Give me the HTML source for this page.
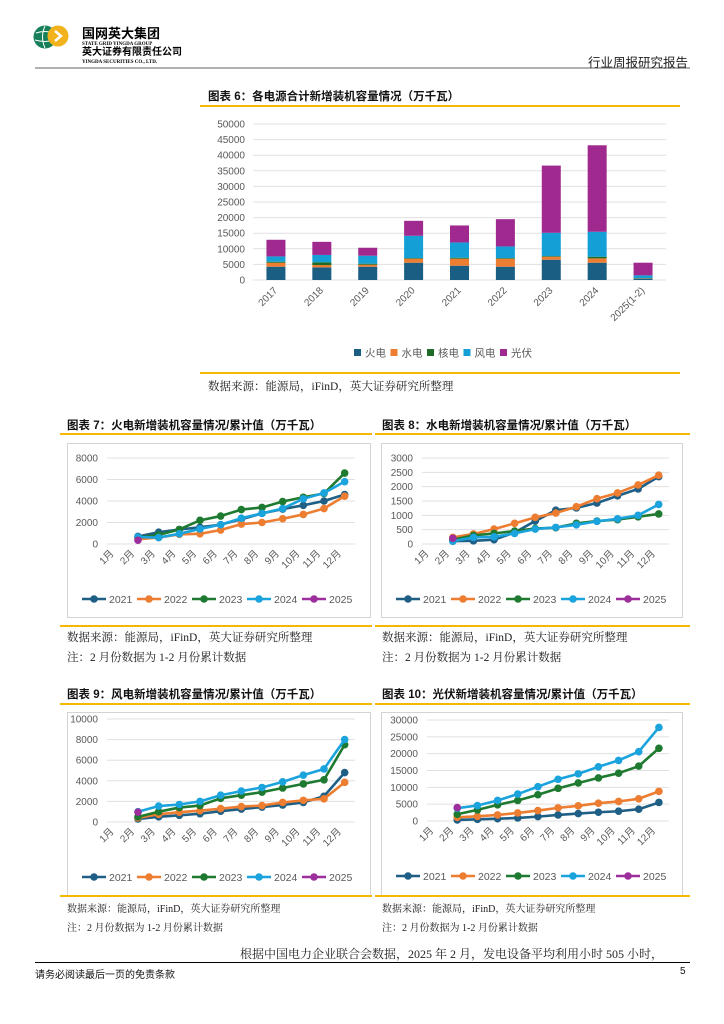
<!DOCTYPE html>
<html><head><meta charset="utf-8">
<style>
body{margin:0;background:#fff;}
#page{position:relative;width:724px;height:1024px;overflow:hidden;background:#fff;font-family:"Liberation Sans","Noto Sans CJK SC",sans-serif;}
.abs{position:absolute;white-space:nowrap;}
.title{font-family:"Liberation Sans","Noto Sans CJK SC",sans-serif;font-weight:bold;font-size:11.5px;color:#111;}
.src{font-family:"Liberation Serif","Noto Serif CJK SC",serif;font-size:11.5px;color:#222;}
.src2{font-family:"Liberation Serif","Noto Serif CJK SC",serif;font-size:10px;color:#222;}
.yl{position:absolute;height:2px;background:#f5b800;}
.box{position:absolute;border:1px solid #d4d4d4;box-sizing:border-box;}
svg text{font-family:"Liberation Sans","Noto Sans CJK SC",sans-serif;}
</style></head><body>
<div id="page">
<svg class="abs" style="left:0;top:0" width="724" height="80">
  <circle cx="45" cy="37" r="11.5" fill="#17805a"/>
  <path d="M36 33 Q45 30 54 33 M35 40 Q45 43 55 40 M45 26 Q40 37 45 48" stroke="#fff" stroke-width="1" fill="none"/>
  <circle cx="58" cy="36" r="10.5" fill="#f2b21b"/>
  <path d="M55 31 L61 36 L55 41" stroke="#fff" stroke-width="2.5" fill="none"/>
  <line x1="35" y1="68" x2="690" y2="68" stroke="#808080" stroke-width="1.2"/>
</svg>
<div class="abs" style="left:82px;top:26px;font-size:13px;font-weight:bold;color:#000;line-height:15px">国网英大集团</div>
<div class="abs" style="left:82px;top:42px;font-size:5px;line-height:5px;font-weight:bold;font-family:'Liberation Serif',serif">STATE GRID YINGDA GROUP</div>
<div class="abs" style="left:82px;top:47px;font-size:10px;line-height:11px;font-weight:bold">英大证券有限责任公司</div>
<div class="abs" style="left:82px;top:60px;font-size:5px;line-height:5px;font-weight:bold;font-family:'Liberation Serif',serif">YINGDA SECURITIES CO., LTD.</div>
<div class="abs" style="left:588px;top:52px;font-size:12.5px;color:#222">行业周报研究报告</div>

<div class="abs title" style="left:208px;top:88px">图表 6：各电源合计新增装机容量情况（万千瓦）</div>
<div class="yl" style="left:200px;top:105px;width:480px"></div>
<svg id="c6" class="abs" style="left:0;top:0" width="724" height="380"></svg>
<div class="yl" style="left:200px;top:372px;width:480px"></div>
<div class="abs src" style="left:208px;top:378px">数据来源：能源局，iFinD，英大证券研究所整理</div>

<div class="abs title" style="left:67px;top:417px">图表 7：火电新增装机容量情况/累计值（万千瓦）</div>
<div class="yl" style="left:60px;top:433px;width:312px"></div>
<div class="abs title" style="left:382px;top:417px">图表 8：水电新增装机容量情况/累计值（万千瓦）</div>
<div class="yl" style="left:375px;top:433px;width:315px"></div>
<div class="box" style="left:67px;top:443px;width:304px;height:175px"></div>
<div class="box" style="left:381px;top:443px;width:302px;height:175px"></div>
<div class="yl" style="left:60px;top:625px;width:312px"></div>
<div class="yl" style="left:375px;top:625px;width:315px"></div>
<div class="abs src" style="left:67px;top:629px">数据来源：能源局，iFinD，英大证券研究所整理</div>
<div class="abs src" style="left:67px;top:649px">注：2 月份数据为 1-2 月份累计数据</div>
<div class="abs src" style="left:382px;top:629px">数据来源：能源局，iFinD，英大证券研究所整理</div>
<div class="abs src" style="left:382px;top:649px">注：2 月份数据为 1-2 月份累计数据</div>

<div class="abs title" style="left:67px;top:686px">图表 9：风电新增装机容量情况/累计值（万千瓦）</div>
<div class="yl" style="left:60px;top:703px;width:312px"></div>
<div class="abs title" style="left:382px;top:686px">图表 10：光伏新增装机容量情况/累计值（万千瓦）</div>
<div class="yl" style="left:375px;top:703px;width:315px"></div>
<div class="box" style="left:67px;top:712px;width:304px;height:184px"></div>
<div class="box" style="left:381px;top:712px;width:302px;height:184px"></div>
<div class="yl" style="left:60px;top:895px;width:312px"></div>
<div class="yl" style="left:375px;top:895px;width:315px"></div>
<div class="abs src2" style="left:67px;top:900px">数据来源：能源局，iFinD，英大证券研究所整理</div>
<div class="abs src2" style="left:67px;top:919px">注：2 月份数据为 1-2 月份累计数据</div>
<div class="abs src2" style="left:382px;top:900px">数据来源：能源局，iFinD，英大证券研究所整理</div>
<div class="abs src2" style="left:382px;top:919px">注：2 月份数据为 1-2 月份累计数据</div>

<div class="abs src" style="left:240px;top:945px;font-size:12px">根据中国电力企业联合会数据，2025 年 2 月，发电设备平均利用小时 505 小时，</div>
<div class="abs" style="left:35px;top:962px;width:655px;height:1px;background:#000"></div>
<div class="abs" style="left:35px;top:966px;font-size:10px;color:#111">请务必阅读最后一页的免责条款</div>
<div class="abs" style="left:680px;top:966px;font-size:10px;color:#111">5</div>

<svg id="c7" class="abs" style="left:0;top:0" width="724" height="1024"></svg>
</div>
<script>
// ---- Chart 6 data ----
var barCats = ["2017","2018","2019","2020","2021","2022","2023","2024","2025(1-2)"];
var thermal = [4260,4050,4260,5540,4580,4260,6500,5540,430];
var hydro   = [1280,750,640,1280,2240,2560,960,1390,100];
var nuclear = [320,880,320,210,320,210,210,530,100];
var wind    = [1700,2350,2560,7140,4900,3730,7460,8000,850];
var solar   = [5330,4200,2560,4800,5440,8740,21540,27720,4060];
var barTicks = [0,5000,10000,15000,20000,25000,30000,35000,40000,45000,50000];
var barSeriesNames = ["火电","水电","核电","风电","光伏"];

// ---- line chart data ----
var months = ["1月","2月","3月","4月","5月","6月","7月","8月","9月","10月","11月","12月"];
var years = ["2021","2022","2023","2024","2025"];
var thermal2021=[null,700,1100,1350,1550,1800,2300,2850,3250,3600,4000,4600];
var thermal2022=[null,450,600,900,950,1300,1850,2000,2350,2750,3300,4450];
var thermal2023=[null,600,850,1350,2200,2600,3200,3400,3950,4350,4700,6600];
var thermal2024=[null,650,600,950,1400,1800,2400,2850,3300,4200,4750,5800];
var thermal2025=[null,350];
var thermalTicks=[0,2000,4000,6000,8000];
var hydro2021=[null,100,110,150,400,800,1180,1260,1430,1680,1920,2350];
var hydro2022=[null,230,350,520,720,930,1080,1300,1580,1780,2060,2400];
var hydro2023=[null,150,300,370,450,540,570,720,800,850,950,1050];
var hydro2024=[null,100,230,250,370,520,580,670,790,880,1000,1380];
var hydro2025=[null,200];
var hydroTicks=[0,500,1000,1500,2000,2500,3000];
var wind2021=[null,300,500,650,800,1050,1250,1450,1650,1900,2500,4800];
var wind2022=[null,400,750,950,1100,1300,1500,1600,1900,2100,2250,3850];
var wind2023=[null,500,1000,1400,1600,2300,2600,2900,3300,3700,4100,7500];
var wind2024=[null,1000,1550,1700,2000,2600,3000,3350,3900,4550,5150,8000];
var wind2025=[null,950];
var windTicks=[0,2000,4000,6000,8000,10000];
var solar2021=[null,300,500,700,900,1300,1800,2200,2600,2900,3500,5500];
var solar2022=[null,1100,1400,1800,2400,3100,3900,4500,5300,5800,6600,8800];
var solar2023=[null,2000,3300,4800,6100,7800,9700,11300,12800,14200,16300,21600];
var solar2024=[null,3800,4600,6100,8000,10200,12400,14000,16100,18000,20600,27800];
var solar2025=[null,4000];
var solarTicks=[0,5000,10000,15000,20000,25000,30000];

var NS="http://www.w3.org/2000/svg";
function mk(parent,tag,attrs){var e=document.createElementNS(NS,tag);for(var k in attrs)e.setAttribute(k,attrs[k]);parent.appendChild(e);return e;}

// ---- draw chart 6 ----
(function(){
  var svg=document.getElementById('c6');
  var x0=253,x1=666,yTop=124,yBot=280,maxV=50000;
  var y=function(v){return yBot-(v/maxV)*(yBot-yTop);};
  var band=(x1-x0)/barCats.length;
  var cx=function(i){return x0+band*(i+0.5);};
  barTicks.forEach(function(t){
    var l=mk(svg,'line',{x1:x0,x2:x1,y1:y(t),y2:y(t),stroke:'#e0e0e0','stroke-width':1});
    
    
    var tx=mk(svg,'text',{x:245,y:y(t)+3.5,'text-anchor':'end','font-size':'10px',fill:'#595959'});
    tx.textContent=t;
    
    
  });
  var series=[thermal,hydro,nuclear,wind,solar];
  var colors=['#1b5e83','#ed7d31','#1e6b27','#14a0d6','#a0298f'];
  barCats.forEach(function(c,i){
    var acc=0;
    series.forEach(function(s,k){
      var r=mk(svg,'rect',{x:cx(i)-9.5,width:19,y:y(acc+s[i]),height:y(acc)-y(acc+s[i]),fill:colors[k]});
      
      
      acc+=s[i];
    });
    var tx=mk(svg,'text',{x:cx(i)+2,y:291,'text-anchor':'end','font-size':'10px',fill:'#595959',transform:'rotate(-45 '+(cx(i)+2)+' 291)'});
    tx.textContent=c;
    
    
  });
  barSeriesNames.forEach(function(n,k){
    var lx=354+k*36.5;
    var r=mk(svg,'rect',{x:lx,y:349,width:7,height:7,fill:colors[k]});
    
    
    var tx=mk(svg,'text',{x:lx+11,y:356.5,'font-size':'10.5px',fill:'#595959'});
    tx.textContent=n;
    
    
  });
})();

// ---- line charts ----
var lineColors=['#1f5f85','#ed7d31','#1e7a30','#1aa3dc','#9c2f9c'];
function lineChart(svg,name,g,seriesList,ticks){
  var y=function(v){return g.yB-(v/ticks[ticks.length-1])*(g.yB-g.yT);};
  var band=(g.x1-g.x0)/months.length;
  var cx=function(i){return g.x0+band*(i+0.5);};
  ticks.forEach(function(t){
    var l=mk(svg,'line',{x1:g.x0,x2:g.x1,y1:y(t),y2:y(t),stroke:'#e0e0e0','stroke-width':1});
    
    
    var tx=mk(svg,'text',{x:g.lx,y:y(t)+3.5,'text-anchor':'end','font-size':'10px',fill:'#595959'});
    tx.textContent=t;
    
    
  });
  months.forEach(function(m,i){
    var ax=cx(i)-3, ay=g.yB+10;
    var tx=mk(svg,'text',{x:ax,y:ay,'text-anchor':'end','font-size':'10px',fill:'#595959',transform:'rotate(-45 '+ax+' '+ay+')'});
    tx.textContent=m;
    
    
  });
  seriesList.forEach(function(s,k){
    var pts=[];
    s.forEach(function(v,i){if(v!==null)pts.push([cx(i),y(v)]);});
    if(pts.length>1){
      var p=mk(svg,'polyline',{points:pts.map(function(q){return q.join(',');}).join(' '),fill:'none',stroke:lineColors[k],'stroke-width':2.6,'stroke-linejoin':'round'});
      
      
    }
    pts.forEach(function(q){
      var c=mk(svg,'circle',{cx:q[0],cy:q[1],r:3.8,fill:lineColors[k]});
      
      
    });
  });
  years.forEach(function(yr,k){
    var lx=g.legX+k*55;
    var l=mk(svg,'line',{x1:lx,x2:lx+24,y1:g.legY,y2:g.legY,stroke:lineColors[k],'stroke-width':2.6});
    
    
    var c=mk(svg,'circle',{cx:lx+12,cy:g.legY,r:3.8,fill:lineColors[k]});
    
    
    var tx=mk(svg,'text',{x:lx+27,y:g.legY+3.8,'font-size':'10.5px',fill:'#595959'});
    tx.textContent=yr;
    
    
  });
}
var svgL=document.getElementById('c7');
lineChart(svgL,'chart7',{x0:107,x1:355,yT:458,yB:544,lx:98,legX:82,legY:599},[thermal2021,thermal2022,thermal2023,thermal2024,thermal2025],thermalTicks);
lineChart(svgL,'chart8',{x0:422,x1:669,yT:458,yB:544,lx:413,legX:396,legY:599},[hydro2021,hydro2022,hydro2023,hydro2024,hydro2025],hydroTicks);
lineChart(svgL,'chart9',{x0:107,x1:355,yT:719,yB:822,lx:98,legX:82,legY:877},[wind2021,wind2022,wind2023,wind2024,wind2025],windTicks);
lineChart(svgL,'chart10',{x0:427,x1:669,yT:720,yB:821,lx:418,legX:396,legY:876},[solar2021,solar2022,solar2023,solar2024,solar2025],solarTicks);
</script>
</body></html>
